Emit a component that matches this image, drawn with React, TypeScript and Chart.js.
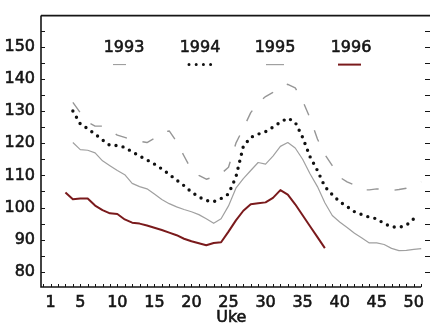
import React, { useEffect, useRef } from 'react';
import { Chart, registerables } from 'chart.js';

Chart.register(...registerables);

// Weekly index values per year; each series starts at its first week
const start1993 = 4;
const values1993 = [
  132.7, 129.5, 126.5, 125.3, 125.3, 124, 122.5, 121.8, 121, 120.6, 120.2, 121.5,
  123.3, 123.8, 120.5, 116, 111.7, 110, 108.8, 109.5, 110.5, 112.5, 120, 124.6,
  129.5, 132.5, 134.5, 135.8, 137.6, 138.3, 137.2, 133.2, 127.8, 121.3, 116.5, 113,
  109.4, 108, 107, 105.5, 105.5, 105.8, 105.6, 105.3, 105.6, 106, 107.2, 108,
];

const start1994 = 4;
const values1994 = [
  130, 126, 124.5, 122.8, 121, 119.3, 119.3, 118.7, 117.3, 116, 114.8, 113.5, 112,
  110.3, 108.5, 106.8, 104.8, 103.3, 102.2, 101.8, 102.8, 104.2, 109.5, 119, 121.8,
  122.8, 123.6, 125, 126.5, 127.8, 126.5, 121.8, 115.8, 111.5, 106.5, 104, 101.8,
  100.3, 98.7, 97.8, 97, 96.5, 95, 94, 93.8, 94.5, 96.5,
];

const start1995 = 4;
const values1995 = [
  120.2, 118, 117.8, 117, 114.5, 113, 111.5, 110.2, 107.5, 106.5, 105.8, 104.2,
  102.5, 101.2, 100.2, 99.4, 98.7, 97.8, 96.5, 95.1, 96.5, 100.5, 106, 109, 111.5,
  114, 113.5, 116, 119, 120.2, 118.5, 115, 110.5, 106.5, 101.5, 97.5, 95.5, 93.8,
  92, 90.5, 89, 89, 88.5, 87.3, 86.6, 86.7, 87, 87.2,
];

const start1996 = 3;
const values1996 = [
  104.7, 102.6, 102.8, 102.8, 100.6, 99.2, 98.2, 98, 96.3, 95.3, 95, 94.4, 93.7,
  93, 92.2, 91.4, 90.3, 89.5, 88.9, 88.3, 89, 89.2, 92.5, 96, 99, 101, 101.3, 101.6,
  103, 105.4, 104, 101, 97.6, 94.2, 90.8, 87.4,
];

const years = ['1993', '1994', '1995', '1996'];
const xTickLabels = [1, 5, 10, 15, 20, 25, 30, 35, 40, 45, 50];
const yTickLabels = [80, 90, 100, 110, 120, 130, 140, 150];
const xTitle = 'Uke';

const FONT = '"DejaVu Sans", Verdana, sans-serif';
const INK = '#151515';
const TEXT_STROKE = 0.6;

const toPoints = (first: number, vals: number[]) =>
  vals.map((v, i) => ({ x: first + i, y: v }));

type Style = {
  color: string;
  width: number;
  dash: number[];
  cap: CanvasLineCap;
};

const styles: Style[] = [
  { color: '#969696', width: 1.4, dash: [12, 16], cap: 'butt' },
  { color: '#111111', width: 3.4, dash: [0, 7.2], cap: 'round' },
  { color: '#a0a0a0', width: 1.2, dash: [], cap: 'butt' },
  { color: '#7a1a1c', width: 2, dash: [], cap: 'butt' },
];

// Frame, inward tick marks, axis title and the year key drawn over the plot
const decorPlugin = {
  id: 'decor',
  afterDraw(chart: any) {
    const { ctx, chartArea: a, scales } = chart;
    const xs = scales.x;
    const ys = scales.y;
    ctx.save();
    ctx.strokeStyle = INK;
    ctx.setLineDash([]);

    ctx.lineWidth = 1.6;
    ctx.beginPath();
    ctx.moveTo(a.left, a.top);
    ctx.lineTo(a.left, a.bottom);
    ctx.lineTo(xs.getPixelForValue(51), a.bottom);
    ctx.moveTo(a.left, a.top);
    ctx.lineTo(chart.width, a.top);
    ctx.stroke();

    ctx.lineWidth = 1;
    ctx.beginPath();
    for (let w = 0; w <= 51; w++) {
      const px = Math.round(xs.getPixelForValue(w)) + 0.5;
      ctx.moveTo(px, a.bottom);
      ctx.lineTo(px, a.bottom - 3);
    }
    for (let v = 80; v <= 155; v += 5) {
      const py = Math.round(ys.getPixelForValue(v)) + 0.5;
      ctx.moveTo(a.left, py);
      ctx.lineTo(a.left + 4, py);
      ctx.moveTo(chart.width - 5, py);
      ctx.lineTo(chart.width, py);
    }
    ctx.stroke();

    ctx.fillStyle = INK;
    ctx.font = `16px ${FONT}`;
    ctx.textAlign = 'center';
    ctx.textBaseline = 'middle';

    // x axis title
    ctx.lineWidth = TEXT_STROKE;
    const titleX = (a.left + a.right) / 2 - 2;
    ctx.fillText(xTitle, titleX, chart.height - 8);
    ctx.strokeText(xTitle, titleX, chart.height - 8);

    // year key
    const keyX = [83, 159, 234, 310];
    const keyLine = [
      [72, 85],
      [148, 174],
      [225, 243],
      [297, 320],
    ];
    years.forEach((yr, i) => {
      ctx.setLineDash([]);
      ctx.strokeStyle = INK;
      ctx.lineWidth = TEXT_STROKE;
      ctx.fillText(yr, a.left + keyX[i], a.top + 32);
      ctx.strokeText(yr, a.left + keyX[i], a.top + 32);
      const s = styles[i];
      ctx.strokeStyle = s.color;
      ctx.lineWidth = i === 1 ? 3 : i === 0 ? 1 : s.width;
      ctx.lineCap = s.cap;
      ctx.setLineDash(i === 0 ? [] : s.dash);
      ctx.beginPath();
      ctx.moveTo(a.left + keyLine[i][0], a.top + 49);
      ctx.lineTo(a.left + keyLine[i][1], a.top + 49);
      ctx.stroke();
    });
    ctx.restore();
  },
};

export default function App() {
  const ref = useRef<HTMLCanvasElement | null>(null);

  useEffect(() => {
    if (!ref.current) return;
    const series = [
      toPoints(start1993, values1993),
      toPoints(start1994, values1994),
      toPoints(start1995, values1995),
      toPoints(start1996, values1996),
    ];
    const chart = new Chart(ref.current, {
      type: 'line',
      data: {
        datasets: series.map((pts, i) => ({
          label: years[i],
          data: pts,
          borderColor: styles[i].color,
          borderWidth: styles[i].width,
          borderDash: styles[i].dash,
          borderCapStyle: styles[i].cap,
          borderJoinStyle: 'round',
          pointRadius: 0,
          tension: 0,
          fill: false,
        })),
      },
      options: {
        animation: false,
        responsive: false,
        devicePixelRatio: 1,
        layout: { padding: { top: 10, right: 1, left: 0, bottom: 0 } },
        plugins: {
          legend: { display: false },
          tooltip: { enabled: false },
        },
        scales: {
          x: {
            type: 'linear',
            min: -0.3,
            max: 51.6,
            grid: { display: false, drawTicks: false },
            border: { display: false },
            afterBuildTicks: (s: any) => {
              s.ticks = xTickLabels.map((v) => ({ value: v }));
            },
            afterFit: (s: any) => {
              s.height = 39;
            },
            ticks: {
              autoSkip: false,
              maxRotation: 0,
              padding: 6,
              color: INK,
              textStrokeColor: INK,
              textStrokeWidth: TEXT_STROKE,
              font: { family: FONT, size: 16, lineHeight: 1.2 },
            },
          },
          y: {
            type: 'linear',
            min: 75.3,
            max: 159.65,
            grid: { display: false, drawTicks: false },
            border: { display: false },
            afterBuildTicks: (s: any) => {
              s.ticks = yTickLabels.map((v) => ({ value: v }));
            },
            afterFit: (s: any) => {
              s.width = 41;
            },
            ticks: {
              padding: 6,
              color: INK,
              textStrokeColor: INK,
              textStrokeWidth: TEXT_STROKE,
              font: { family: FONT, size: 16, lineHeight: 1.2 },
            },
          },
        },
      },
      plugins: [decorPlugin],
    });
    return () => chart.destroy();
  }, []);

  return (
    <div style={{ position: 'fixed', left: 0, top: 0, width: 430, height: 326, background: '#fff' }}>
      <canvas ref={ref} width={430} height={326} style={{ display: 'block' }} />
    </div>
  );
}
